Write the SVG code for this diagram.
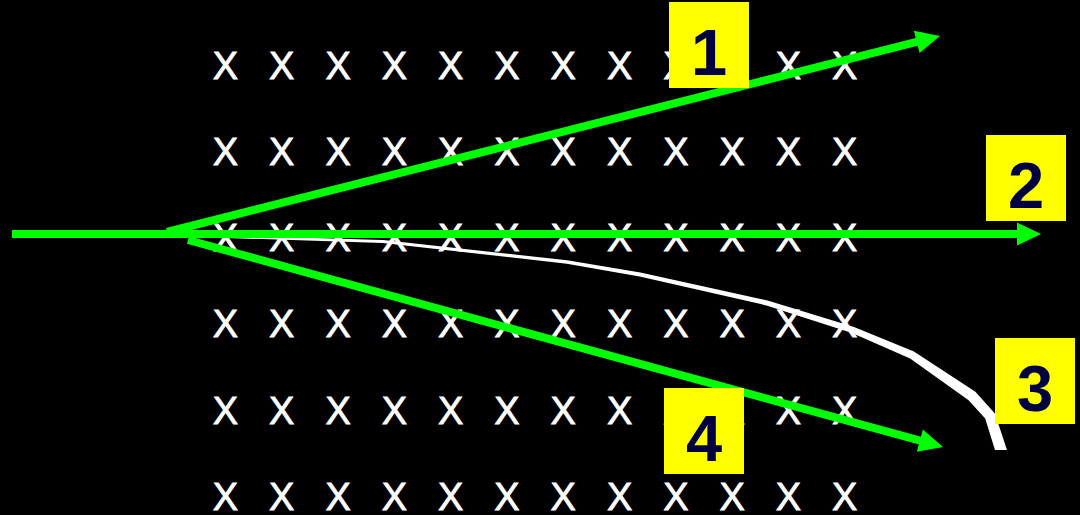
<svg xmlns="http://www.w3.org/2000/svg" width="1080" height="515" viewBox="0 0 1080 515">
  <style>
    .x { font-family: "Liberation Sans", Arial, sans-serif; font-size: 38px; fill: #ffffff; stroke: #ffffff; stroke-width: 0.8px; text-anchor: middle; }
    .lbl { fill: #ffff00; }
    .num { font-family: "Liberation Sans", Arial, sans-serif; font-size: 65px; font-weight: bold; fill: #000040; text-anchor: middle; }
    .g { stroke: #00ff00; stroke-width: 8; fill: none; stroke-linecap: butt; }
  </style>
  <defs>
    <marker id="ah" markerUnits="userSpaceOnUse" markerWidth="26" markerHeight="24" refX="4" refY="11.5" orient="auto" overflow="visible">
      <path d="M0,0 L24,11.5 L0,23 Z" fill="#00ff00"/>
    </marker>
  </defs>
  <rect width="1080" height="515" fill="#000000"/>

  <g id="grid">
    <g id="row1">
      <text class="x" x="225.5" y="78.5">X</text><text class="x" x="281.8" y="78.5">X</text><text class="x" x="338.1" y="78.5">X</text><text class="x" x="394.4" y="78.5">X</text><text class="x" x="450.7" y="78.5">X</text><text class="x" x="507" y="78.5">X</text><text class="x" x="563.3" y="78.5">X</text><text class="x" x="619.6" y="78.5">X</text><text class="x" x="675.9" y="78.5">X</text><text class="x" x="732.2" y="78.5">X</text><text class="x" x="788.5" y="78.5">X</text><text class="x" x="844.8" y="78.5">X</text>
    </g>
    <g id="row2">
      <text class="x" x="225.5" y="164.8">X</text><text class="x" x="281.8" y="164.8">X</text><text class="x" x="338.1" y="164.8">X</text><text class="x" x="394.4" y="164.8">X</text><text class="x" x="450.7" y="164.8">X</text><text class="x" x="507" y="164.8">X</text><text class="x" x="563.3" y="164.8">X</text><text class="x" x="619.6" y="164.8">X</text><text class="x" x="675.9" y="164.8">X</text><text class="x" x="732.2" y="164.8">X</text><text class="x" x="788.5" y="164.8">X</text><text class="x" x="844.8" y="164.8">X</text>
    </g>
    <g id="row3">
      <text class="x" x="225.5" y="251.1">X</text><text class="x" x="281.8" y="251.1">X</text><text class="x" x="338.1" y="251.1">X</text><text class="x" x="394.4" y="251.1">X</text><text class="x" x="450.7" y="251.1">X</text><text class="x" x="507" y="251.1">X</text><text class="x" x="563.3" y="251.1">X</text><text class="x" x="619.6" y="251.1">X</text><text class="x" x="675.9" y="251.1">X</text><text class="x" x="732.2" y="251.1">X</text><text class="x" x="788.5" y="251.1">X</text><text class="x" x="844.8" y="251.1">X</text>
    </g>
    <g id="row4">
      <text class="x" x="225.5" y="337.4">X</text><text class="x" x="281.8" y="337.4">X</text><text class="x" x="338.1" y="337.4">X</text><text class="x" x="394.4" y="337.4">X</text><text class="x" x="450.7" y="337.4">X</text><text class="x" x="507" y="337.4">X</text><text class="x" x="563.3" y="337.4">X</text><text class="x" x="619.6" y="337.4">X</text><text class="x" x="675.9" y="337.4">X</text><text class="x" x="732.2" y="337.4">X</text><text class="x" x="788.5" y="337.4">X</text><text class="x" x="844.8" y="337.4">X</text>
    </g>
    <g id="row5">
      <text class="x" x="225.5" y="423.7">X</text><text class="x" x="281.8" y="423.7">X</text><text class="x" x="338.1" y="423.7">X</text><text class="x" x="394.4" y="423.7">X</text><text class="x" x="450.7" y="423.7">X</text><text class="x" x="507" y="423.7">X</text><text class="x" x="563.3" y="423.7">X</text><text class="x" x="619.6" y="423.7">X</text><text class="x" x="675.9" y="423.7">X</text><text class="x" x="732.2" y="423.7">X</text><text class="x" x="788.5" y="423.7">X</text><text class="x" x="844.8" y="423.7">X</text>
    </g>
    <g id="row6">
      <text class="x" x="225.5" y="510">X</text><text class="x" x="281.8" y="510">X</text><text class="x" x="338.1" y="510">X</text><text class="x" x="394.4" y="510">X</text><text class="x" x="450.7" y="510">X</text><text class="x" x="507" y="510">X</text><text class="x" x="563.3" y="510">X</text><text class="x" x="619.6" y="510">X</text><text class="x" x="675.9" y="510">X</text><text class="x" x="732.2" y="510">X</text><text class="x" x="788.5" y="510">X</text><text class="x" x="844.8" y="510">X</text>
    </g>
  </g>

  <g id="connectors">
    <path id="path3" fill="#ffffff" d="M172,233.8 L383.1,240 L567.2,260.3 L640.4,272.5 L767.6,300.6 L854,327 L913.9,351.5 L975.4,391.7 L994.9,413.4 L1007,450 L995,450 L985.2,418.6 L968.6,400.3 L910.1,358.5 L852,333 L766.4,305.4 L639.6,276.5 L566.8,263.7 L382.9,243 L172,236.2 Z"/>
    <line id="path2" class="g" x1="12" y1="234" x2="1021" y2="234" marker-end="url(#ah)"/>
    <line id="path1" class="g" x1="167" y1="232" x2="920.6" y2="40.9" marker-end="url(#ah)"/>
    <line id="path4" class="g" x1="188" y1="240" x2="923.7" y2="441.7" marker-end="url(#ah)"/>
  </g>

  <g id="label1"><rect class="lbl" x="669" y="2" width="80" height="86"/><text class="num" x="709" y="75">1</text></g>
  <g id="label2"><rect class="lbl" x="986" y="135" width="80" height="86"/><text class="num" x="1026" y="208">2</text></g>
  <g id="label3"><rect class="lbl" x="995" y="338" width="80" height="86"/><text class="num" x="1035" y="411">3</text></g>
  <g id="label4"><rect class="lbl" x="664" y="388" width="80" height="86"/><text class="num" x="704" y="461">4</text></g>
</svg>
